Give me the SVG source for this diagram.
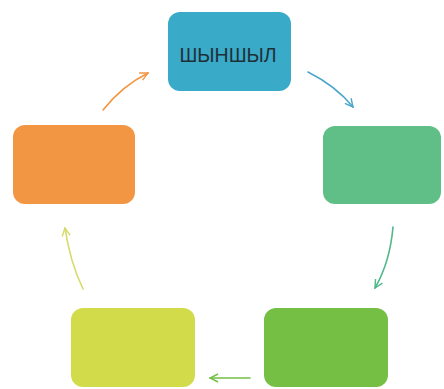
<svg xmlns="http://www.w3.org/2000/svg" width="444" height="389" viewBox="0 0 444 389">
<defs>
<style>
.arr{fill:none;stroke-width:1.6;stroke-linecap:round}
.lbl{font-family:"Liberation Sans",Arial,sans-serif;font-size:19.5px;fill:#1f2f38;text-anchor:middle}
</style>
<marker id="mb" viewBox="0 0 10 10" refX="9" refY="5" markerWidth="10" markerHeight="10" markerUnits="userSpaceOnUse" orient="auto"><path d="M1,1 L9,5 L1,9" fill="none" stroke="#4da6c8" stroke-width="1.4"/></marker>
<marker id="mt" viewBox="0 0 10 10" refX="9" refY="5" markerWidth="10" markerHeight="10" markerUnits="userSpaceOnUse" orient="auto"><path d="M1,1 L9,5 L1,9" fill="none" stroke="#4fb78a" stroke-width="1.4"/></marker>
<marker id="mg" viewBox="0 0 10 10" refX="9" refY="5" markerWidth="10" markerHeight="10" markerUnits="userSpaceOnUse" orient="auto"><path d="M1,1 L9,5 L1,9" fill="none" stroke="#74bf44" stroke-width="1.4"/></marker>
<marker id="my" viewBox="0 0 10 10" refX="9" refY="5" markerWidth="10" markerHeight="10" markerUnits="userSpaceOnUse" orient="auto"><path d="M1,1 L9,5 L1,9" fill="none" stroke="#d6da66" stroke-width="1.4"/></marker>
<marker id="mo" viewBox="0 0 10 10" refX="9" refY="5" markerWidth="10" markerHeight="10" markerUnits="userSpaceOnUse" orient="auto"><path d="M1,1 L9,5 L1,9" fill="none" stroke="#f39643" stroke-width="1.4"/></marker>
</defs>
<rect width="444" height="389" fill="#ffffff"/>
<g id="connectors">
<path class="arr" d="M308,72 Q336,86 353,107" stroke="#4da6c8" marker-end="url(#mb)"/>
<path class="arr" d="M393,227 Q390,262 375,288" stroke="#4fb78a" marker-end="url(#mt)"/>
<path class="arr" d="M250,378 L210,378" stroke="#74bf44" marker-end="url(#mg)"/>
<path class="arr" d="M83,289 Q70,262 65,228" stroke="#d6da66" marker-end="url(#my)"/>
<path class="arr" d="M103,110 Q122,86 148,73" stroke="#f39643" marker-end="url(#mo)"/>
</g>
<g id="node-top"><rect x="168" y="12" width="123" height="79" rx="12" fill="#3aaac9"/><text class="lbl" x="228" y="62">ШЫНШЫЛ</text></g>
<g id="node-right"><rect x="323" y="126" width="118" height="78" rx="12" fill="#5fbf87"/></g>
<g id="node-bottom-right"><rect x="264" y="308" width="124" height="79" rx="12" fill="#74bf44"/></g>
<g id="node-bottom-left"><rect x="71" y="308" width="124" height="79" rx="12" fill="#d2dc4a"/></g>
<g id="node-left"><rect x="13" y="125" width="122" height="79" rx="12" fill="#f39643"/></g>
</svg>
